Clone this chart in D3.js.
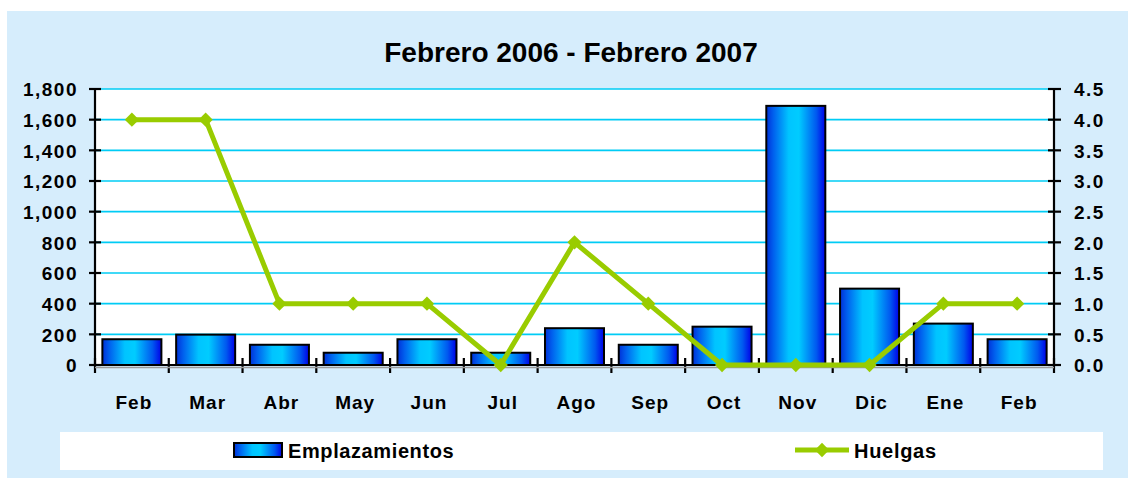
<!DOCTYPE html>
<html>
<head>
<meta charset="utf-8">
<script src="https://cdn.jsdelivr.net/npm/d3@7"></script>
<style>
  html, body { margin: 0; padding: 0; background: #ffffff; }
  svg { display: block; font-family: "Liberation Sans", Arial, sans-serif; }
</style>
</head>
<body>
<svg id="chart" width="1128" height="478"></svg>
<script>
const categories = ["Feb", "Mar", "Abr", "May", "Jun", "Jul", "Ago", "Sep", "Oct", "Nov", "Dic", "Ene", "Feb"];
const emplazamientos = [168, 198, 132, 80, 168, 80, 240, 132, 250, 1690, 498, 270, 168];
const huelgas = [4, 4, 1, 1, 1, 0, 2, 1, 0, 0, 0, 1, 1];
const leftTicks = [0, 200, 400, 600, 800, 1000, 1200, 1400, 1600, 1800];
const rightTicks = [0, 0.5, 1, 1.5, 2, 2.5, 3, 3.5, 4, 4.5];
const titleText = "Febrero 2006 - Febrero 2007";
const seriesNames = ["Emplazamientos", "Huelgas"];

const svg = d3.select("#chart");
const W = 1128, H = 478;
const plot = { left: 95, right: 1054, top: 89, bottom: 365 };

// Outer background
svg.append("rect").attr("x", 7).attr("y", 11).attr("width", W - 7).attr("height", H - 11)
  .attr("fill", "#d6edfc");

// Plot area
svg.append("rect").attr("x", plot.left).attr("y", plot.top)
  .attr("width", plot.right - plot.left).attr("height", plot.bottom - plot.top)
  .attr("fill", "#ffffff");

const x = d3.scaleBand().domain(d3.range(categories.length))
  .range([plot.left, plot.right]).paddingInner(0.2).paddingOuter(0.1);
const yL = d3.scaleLinear().domain([0, 1800]).range([plot.bottom, plot.top]);
const yR = d3.scaleLinear().domain([0, 4.5]).range([plot.bottom, plot.top]);

// Gradient for bars
const defs = svg.append("defs");
const grad = defs.append("linearGradient").attr("id", "barGrad")
  .attr("x1", "0%").attr("x2", "100%").attr("y1", "0%").attr("y2", "0%");
[[0, "#0030d8"], [0.12, "#0060ee"], [0.38, "#00c4ff"], [0.55, "#00ccff"], [0.85, "#0058f0"], [1, "#0000e8"]]
  .forEach(([o, c]) => grad.append("stop").attr("offset", o).attr("stop-color", c));

// Gridlines
svg.append("g").selectAll("line").data(leftTicks.filter(d => d > 0)).join("line")
  .attr("x1", plot.left).attr("x2", plot.right)
  .attr("y1", d => yL(d)).attr("y2", d => yL(d))
  .attr("stroke", "#00ccf5").attr("stroke-width", 1.6);

// Bars
svg.append("g").selectAll("rect").data(emplazamientos).join("rect")
  .attr("x", (d, i) => x(i)).attr("width", x.bandwidth())
  .attr("y", d => yL(d)).attr("height", d => yL(0) - yL(d))
  .attr("fill", "url(#barGrad)").attr("stroke", "#000").attr("stroke-width", 2);

// Axes
const tickStyle = g => {
  g.selectAll("text").attr("font-size", 19).attr("font-weight", "bold")
    .attr("fill", "#000").attr("letter-spacing", "1.5px");
};
const axL = d3.axisLeft(yL).tickValues(leftTicks).tickSize(0).tickPadding(0)
  .tickFormat(d3.format(","));
const gL = svg.append("g").attr("transform", `translate(${plot.left},0)`).call(axL);
gL.select(".domain").remove();
gL.selectAll("text").attr("x", -17).attr("dy", "0.36em");
tickStyle(gL);

const axR = d3.axisRight(yR).tickValues(rightTicks).tickSize(0).tickPadding(0)
  .tickFormat(d3.format(".1f"));
const gR = svg.append("g").attr("transform", `translate(${plot.right},0)`).call(axR);
gR.select(".domain").remove();
gR.selectAll("text").attr("x", 20).attr("dy", "0.36em");
tickStyle(gR);

// axis lines & cross ticks
const axisG = svg.append("g").attr("stroke", "#000").attr("stroke-width", 2.2);
axisG.append("line").attr("x1", plot.left).attr("x2", plot.left).attr("y1", plot.top).attr("y2", plot.bottom + 1);
axisG.append("line").attr("x1", plot.right).attr("x2", plot.right).attr("y1", plot.top).attr("y2", plot.bottom + 1);
axisG.selectAll(".tl").data(leftTicks).join("line").attr("class", "tl")
  .attr("x1", plot.left - 6).attr("x2", plot.left + 6).attr("y1", d => yL(d)).attr("y2", d => yL(d));
axisG.selectAll(".tr").data(rightTicks).join("line").attr("class", "tr")
  .attr("x1", plot.right - 6).attr("x2", plot.right + 7).attr("y1", d => yR(d)).attr("y2", d => yR(d));
// bottom axis shadow + line
svg.append("line").attr("x1", plot.left).attr("x2", plot.right)
  .attr("y1", plot.bottom + 2.5).attr("y2", plot.bottom + 2.5)
  .attr("stroke", "#9a9a9a").attr("stroke-width", 1.5);
axisG.append("line").attr("x1", plot.left).attr("x2", plot.right).attr("y1", plot.bottom).attr("y2", plot.bottom);
const bounds = d3.range(categories.length + 1).map(i => plot.left + i * x.step());
axisG.selectAll(".tx").data(bounds).join("line").attr("class", "tx")
  .attr("x1", d => d).attr("x2", d => d).attr("y1", plot.bottom - 7).attr("y2", plot.bottom + 8);

// Category labels
svg.append("g").selectAll("text").data(categories).join("text")
  .attr("x", (d, i) => x(i) + x.bandwidth() / 2 + 2).attr("y", 409)
  .attr("text-anchor", "middle").attr("font-size", 19).attr("font-weight", "bold")
  .attr("letter-spacing", "1px").text(d => d);

// Line
const line = d3.line().x((d, i) => x(i) + x.bandwidth() / 2).y(d => yR(d));
svg.append("path").datum(huelgas).attr("d", line)
  .attr("fill", "none").attr("stroke", "#99cc00").attr("stroke-width", 5)
  .attr("stroke-linejoin", "round");
const diamond = d3.symbol().type(d3.symbolDiamond2).size(130);
svg.append("g").selectAll("path").data(huelgas).join("path")
  .attr("transform", (d, i) => `translate(${x(i) + x.bandwidth() / 2},${yR(d)})`)
  .attr("d", diamond).attr("fill", "#99cc00");

// Title
svg.append("text").attr("x", 571).attr("y", 62).attr("text-anchor", "middle")
  .attr("font-size", 28).attr("font-weight", "bold").text(titleText);

// Legend
svg.append("rect").attr("x", 60).attr("y", 432).attr("width", 1043).attr("height", 38).attr("fill", "#ffffff");
svg.append("rect").attr("x", 234).attr("y", 443).attr("width", 48).attr("height", 14)
  .attr("fill", "url(#barGrad)").attr("stroke", "#000").attr("stroke-width", 2);
svg.append("text").attr("x", 288).attr("y", 458).attr("font-size", 20).attr("font-weight", "bold")
  .attr("letter-spacing", "0.6px").text(seriesNames[0]);
svg.append("line").attr("x1", 795).attr("x2", 849).attr("y1", 450).attr("y2", 450)
  .attr("stroke", "#99cc00").attr("stroke-width", 5);
svg.append("path").attr("transform", "translate(822,450)").attr("d", diamond).attr("fill", "#99cc00");
svg.append("text").attr("x", 854).attr("y", 458).attr("font-size", 20).attr("font-weight", "bold")
  .attr("letter-spacing", "0.7px").text(seriesNames[1]);
</script>
</body>
</html>
